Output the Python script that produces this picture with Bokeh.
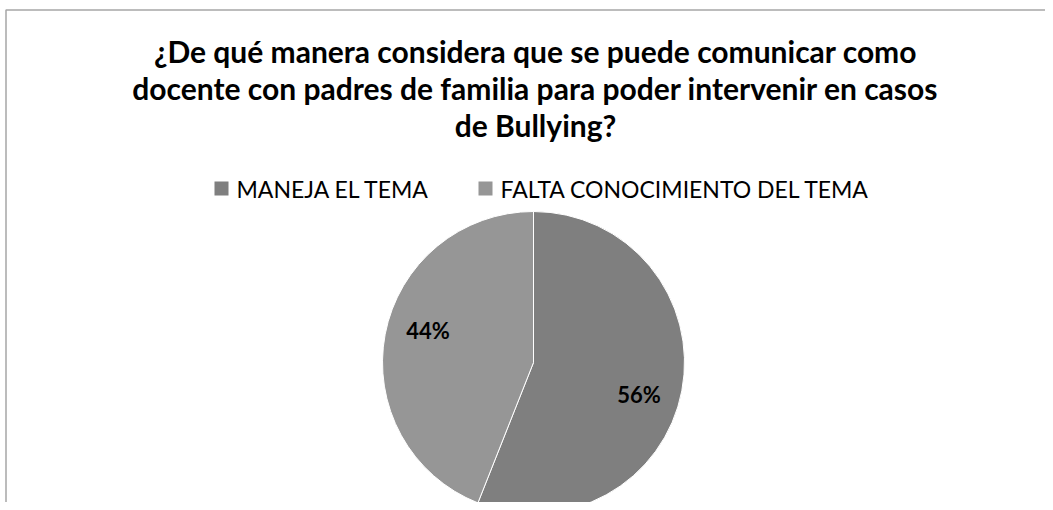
import math
from bokeh.plotting import figure
from bokeh.models import Range1d, ColumnDataSource
from bokeh.core.properties import value
from bokeh.embed import file_html
from bokeh.resources import INLINE

# ---- data ----
categories = ["MANEJA EL TEMA", "FALTA CONOCIMIENTO DEL TEMA"]
shares = [56, 44]
colors = ["#7f7f7f", "#969696"]
title_lines = [
    "¿De qué manera considera que se puede comunicar como",
    "docente con padres de familia para poder intervenir en casos",
    "de Bullying?",
]

W, H = 1045, 502
FONT = "Lato"

p = figure(width=W, height=H, output_backend="svg", toolbar_location=None,
           x_range=Range1d(0, W), y_range=Range1d(0, H),
           min_border=0, outline_line_color=None)
p.axis.visible = False
p.grid.visible = False
p.background_fill_color = "white"
p.border_fill_color = "white"

# frame (left and top edges visible in the reference)
p.line([5.5, 5.5, W], [0, H - 9.5, H - 9.5], line_color="#a6a6a6", line_width=1.5)

# ---- pie ----
cx, cy, R = 533, 140, 151
total = float(sum(shares))
starts, ends, mids = [], [], []
a = math.pi / 2
for s in shares:
    sweep = s / total * 2 * math.pi
    starts.append(a)
    ends.append(a - sweep)
    mids.append(a - sweep / 2)
    a -= sweep
src = ColumnDataSource(dict(start=starts, end=ends, color=colors, cat=categories))
p.wedge(x=cx, y=cy, radius=R, start_angle="start", end_angle="end",
        direction="clock", fill_color="color", line_color="white",
        line_width=1, source=src)

# data labels
shift = math.radians(6)
lr = 0.73 * R
lx = [cx + lr * math.cos(m - shift) for m in mids]
ly = [cy + lr * math.sin(m - shift) for m in mids]
lt = [f"{s}%" for s in shares]
p.text(x=lx, y=ly, text=lt, text_align="center", text_baseline="middle",
       text_font=value(FONT), text_font_style="bold", text_font_size="22px",
       text_color="black")

# ---- title ----
ty = [H - 50, H - 87, H - 124]
p.text(x=[535] * 3, y=ty, text=title_lines, text_align="center",
       text_baseline="alphabetic", text_font=value(FONT),
       text_font_style="bold", text_font_size="30px", text_color="black")

# ---- legend ----
leg_x = [214, 478]
leg_y = H - 188
p.rect(x=[x + 7 for x in leg_x], y=[leg_y] * 2, width=14, height=14,
       fill_color=colors, line_color=None)
p.text(x=[x + 22 for x in leg_x], y=[leg_y] * 2, text=categories,
       text_align="left", text_baseline="middle", text_font=value(FONT),
       text_font_size="23px", text_color="black")

open("out.html", "w").write(file_html(p, INLINE))
